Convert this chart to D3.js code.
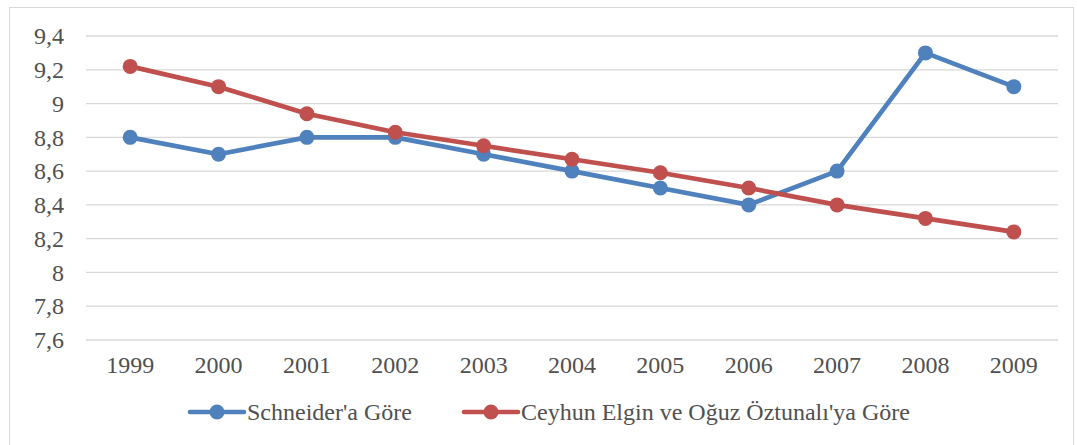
<!DOCTYPE html>
<html>
<head>
<meta charset="utf-8">
<script src="https://cdn.jsdelivr.net/npm/d3@7"></script>
<style>
  body { margin: 0; background: #fff; }
</style>
</head>
<body>
<svg id="chart" width="1077" height="445"></svg>
<script>
// data
const years = ["1999", "2000", "2001", "2002", "2003", "2004", "2005", "2006", "2007", "2008", "2009"];
const schneider = [8.8, 8.7, 8.8, 8.8, 8.7, 8.6, 8.5, 8.4, 8.6, 9.3, 9.1];
const elginOztunali = [9.22, 9.1, 8.94, 8.83, 8.75, 8.67, 8.59, 8.5, 8.4, 8.32, 8.24];
const yTicks = [7.6, 7.8, 8, 8.2, 8.4, 8.6, 8.8, 9, 9.2, 9.4];
const seriesNames = ["Schneider'a Göre", "Ceyhun Elgin ve Oğuz Öztunalı'ya Göre"];
const colors = ["#4f81bd", "#c0504d"];

const fontFamily = "Liberation Serif";
const fontSize = 24;
const textColor = "#505050";

const svg = d3.select("#chart");
const margin = { top: 36, left: 86, right: 19, bottom: 105 };
const width = 1077 - margin.left - margin.right;
const height = 445 - margin.top - margin.bottom;

// outer frame
svg.append("rect")
    .attr("x", 9.5).attr("y", 7.5)
    .attr("width", 1064).attr("height", 450)
    .attr("fill", "none")
    .attr("stroke", "#d9d9d9");

const g = svg.append("g").attr("transform", `translate(${margin.left},${margin.top})`);

const x = d3.scaleBand().domain(years).range([0, width]);
const y = d3.scaleLinear().domain([7.6, 9.4]).range([height, 0]);

// gridlines
g.append("g")
    .selectAll("line")
    .data(yTicks)
    .enter()
    .append("line")
    .attr("x1", 0).attr("x2", width)
    .attr("y1", d => y(d)).attr("y2", d => y(d))
    .attr("stroke", "#d9d9d9")
    .attr("stroke-width", 1.3);

// y labels
const fmt = d => String(Math.round(d * 10) / 10).replace(".", ",");
const yAxis = g.append("g")
    .call(d3.axisLeft(y).tickValues(yTicks).tickFormat(fmt).tickSize(0).tickPadding(22))
    .attr("font-family", fontFamily)
    .attr("font-size", fontSize);
yAxis.select(".domain").remove();
yAxis.selectAll("text").attr("fill", textColor);

// x labels
const xAxis = g.append("g")
    .attr("transform", `translate(0,${height})`)
    .call(d3.axisBottom(x).tickSize(0).tickPadding(16))
    .attr("font-family", fontFamily)
    .attr("font-size", fontSize);
xAxis.select(".domain").remove();
xAxis.selectAll("text").attr("fill", textColor);

const line = d3.line()
    .x((d, i) => x(years[i]) + x.bandwidth() / 2)
    .y(d => y(d));

[schneider, elginOztunali].forEach((vals, s) => {
    g.append("path")
        .datum(vals)
        .attr("d", line)
        .attr("fill", "none")
        .attr("stroke", colors[s])
        .attr("stroke-width", 4.7)
        .attr("stroke-linejoin", "round");
    g.selectAll(".pt" + s)
        .data(vals)
        .enter()
        .append("circle")
        .attr("class", "pt" + s)
        .attr("cx", (d, i) => x(years[i]) + x.bandwidth() / 2)
        .attr("cy", d => y(d))
        .attr("r", 7.5)
        .attr("fill", colors[s]);
});

// legend
const legendX = [190, 464];
const legend = svg.append("g")
    .attr("transform", "translate(0,412)")
    .attr("font-family", fontFamily)
    .attr("font-size", fontSize);
seriesNames.forEach((name, s) => {
    const lg = legend.append("g").attr("transform", `translate(${legendX[s]},0)`);
    lg.append("line")
        .attr("x1", 0).attr("x2", 54)
        .attr("stroke", colors[s])
        .attr("stroke-width", 4.7)
        .attr("stroke-linecap", "round");
    lg.append("circle").attr("cx", 27).attr("r", 7.5).attr("fill", colors[s]);
    lg.append("text")
        .attr("x", 57)
        .attr("dy", "0.33em")
        .attr("fill", textColor)
        .text(name);
});
</script>
</body>
</html>
